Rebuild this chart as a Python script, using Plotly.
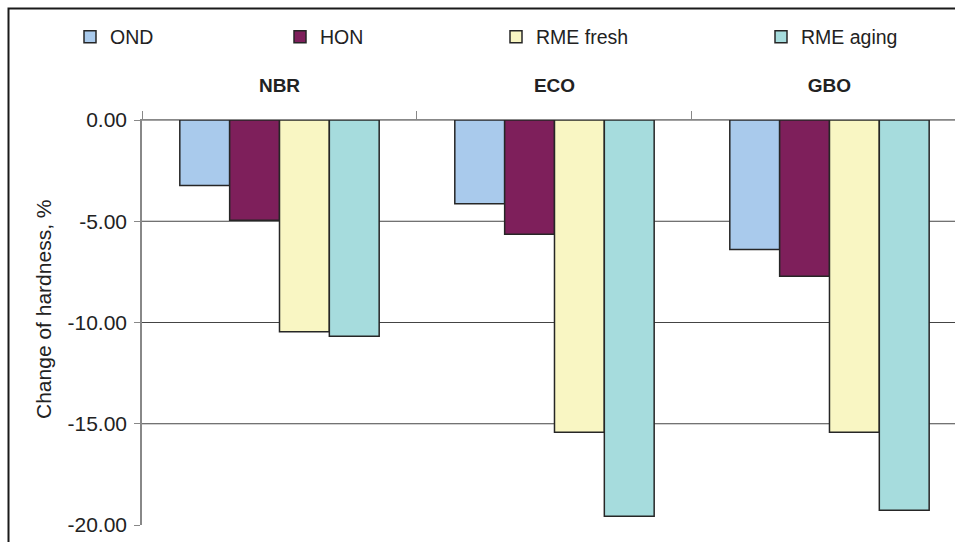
import plotly.graph_objects as go

# Hardness change of elastomers after immersion in different fuels
materials = ["NBR", "ECO", "GBO"]
series_names = ["OND", "HON", "RME fresh", "RME aging"]
ond = [-3.23, -4.14, -6.40]
hon = [-4.95, -5.64, -7.71]
rme_fresh = [-10.46, -15.42, -15.42]
rme_aging = [-10.68, -19.57, -19.27]
y_ticks = [0, -5, -10, -15, -20]

colors = ["#A9CAEC", "#7E1F5B", "#F9F6C3", "#A6DCDD"]
values = [ond, hon, rme_fresh, rme_aging]

W, H = 955, 542
ML, MR, MT, MB = 142, 0, 120, 17
plot_w = W - ML - MR
plot_h = H - MT - MB

FAMILY = "Liberation Sans, Arial, sans-serif"
TXT = "#222222"

fig = go.Figure()
legend_names = ["legend", "legend2", "legend3", "legend4"]
for name, vals, col, lg in zip(series_names, values, colors, legend_names):
    fig.add_trace(go.Bar(
        x=materials, y=vals, name=name, legend=lg,
        marker=dict(color=col, line=dict(color="#262626", width=1.5)),
    ))

# horizontal grid lines (none at the bottom edge)
for v in y_ticks[:-1]:
    fig.add_shape(type="line", xref="paper", yref="y", x0=0, x1=1, y0=v, y1=v,
                  line=dict(color="#444444", width=1), layer="below")

# outer frame of the chart
fig.add_shape(type="rect", xref="paper", yref="paper",
              x0=(8.5 - ML) / plot_w, x1=1.2,
              y0=-0.3, y1=1 + (MT - 8.5) / plot_h,
              line=dict(color="#1a1a1a", width=2))

# y-axis title
fig.add_annotation(
    text="Change of hardness, %", textangle=-90,
    xref="paper", yref="paper",
    x=(43 - ML) / plot_w, y=1 - (310 - MT) / plot_h,
    xanchor="center", yanchor="middle", showarrow=False,
    font=dict(family=FAMILY, size=21, color=TXT),
)

legend_px = [70, 280, 496, 761]
legend_layouts = {}
for lg, px in zip(legend_names, legend_px):
    legend_layouts[lg] = dict(
        x=(px - ML) / plot_w, xanchor="left",
        y=1 + (MT - 37) / plot_h, yanchor="middle",
        orientation="h", bgcolor="rgba(0,0,0,0)",
        font=dict(family=FAMILY, size=19.5, color=TXT), itemwidth=30,
    )

fig.update_layout(
    width=W, height=H,
    margin=dict(l=ML, r=MR, t=MT, b=MB),
    paper_bgcolor="white", plot_bgcolor="white",
    barmode="group", bargap=0.275, bargroupgap=0,
    font=dict(family=FAMILY, size=18, color=TXT),
    showlegend=True,
    **legend_layouts,
)

fig.update_xaxes(
    side="top", type="category",
    range=[-0.5, 2.5 - 12 / 275.5],
    tickson="boundaries", ticks="outside", ticklen=8, tickcolor="#888888",
    showline=True, linecolor="#888888", linewidth=1,
    showgrid=False, ticklabelstandoff=19,
    tickfont=dict(family=FAMILY, size=19, color=TXT, weight="bold"),
)
fig.update_yaxes(
    range=[-20, 0], tickvals=y_ticks,
    ticktext=[f"{v:.2f}" for v in y_ticks],
    ticks="outside", ticklen=6, tickcolor="#888888",
    showline=True, linecolor="#888888", linewidth=1.5,
    showgrid=False, zeroline=False, ticklabelstandoff=3,
    tickfont=dict(family=FAMILY, size=21, color=TXT),
)

fig.write_html("out.html")
